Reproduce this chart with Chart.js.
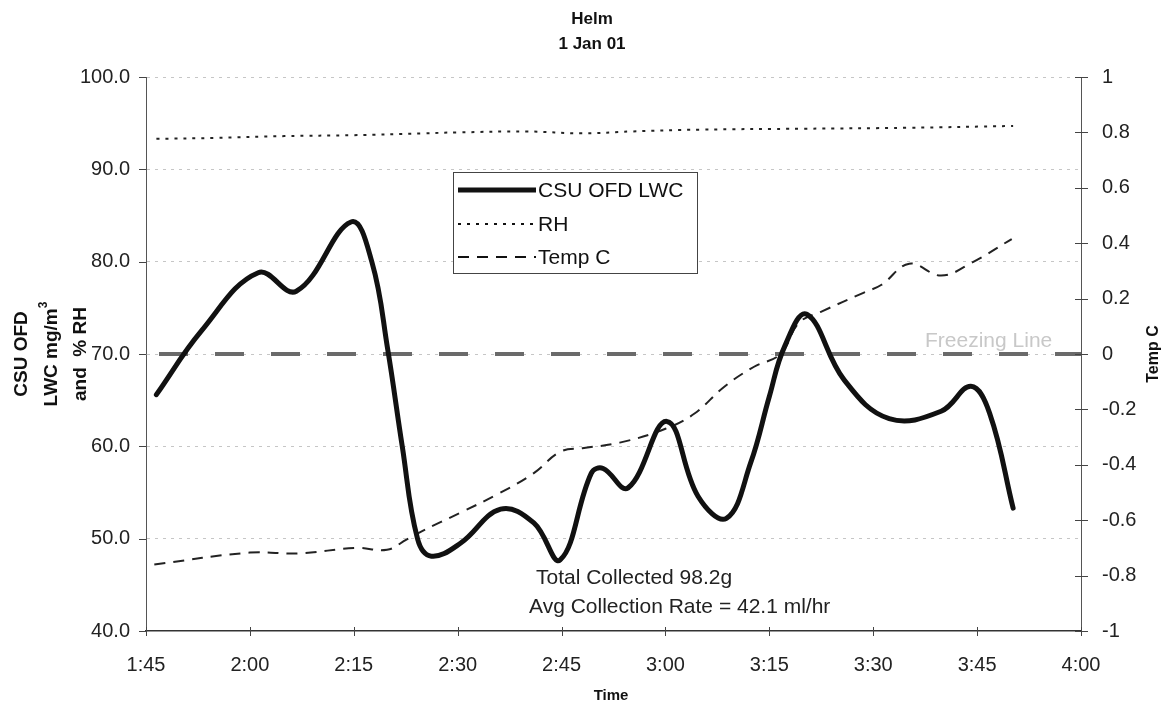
<!DOCTYPE html>
<html>
<head>
<meta charset="utf-8">
<script src="https://cdn.jsdelivr.net/npm/chart.js@4/dist/chart.umd.min.js"></script>
<style>
  body { margin: 0; background: #fff; }
  #chart { display: block; }
</style>
</head>
<body>
<canvas id="chart" width="1169" height="704"></canvas>
<script>
// Data (time in minutes after midnight)
const lwcTimes  = [106.5, 113, 121.2, 126.7, 134.6, 137.6, 139.9, 142, 144.2, 146.2, 150.4, 156.2, 161, 164.8, 169.3, 171, 174.6, 180.2, 184.7, 188.8, 192.3, 195, 197.2, 200.4, 205.8, 212.3, 219.8, 224.1, 226.8, 230.2];
const lwcValues = [65.6, 72.5, 78.8, 76.8, 84.3, 80, 70.5, 60, 50, 48.1, 49.5, 53.2, 51.7, 47.7, 57.1, 57.6, 55.5, 62.7, 54.6, 52.2, 58.2, 65.4, 70.8, 74.3, 67.2, 63.0, 63.8, 66.5, 63.6, 53.3];

const rhTimes  = [106.5, 115, 125, 135, 145, 150, 160, 168, 175, 185, 200, 215, 230.2];
const rhValues = [93.3, 93.4, 93.6, 93.7, 93.9, 94.0, 94.1, 93.9, 94.1, 94.3, 94.4, 94.5, 94.7];

const tempTimes  = [106.2, 120, 127, 135.4, 139.8, 142.6, 144.8, 150.4, 156, 161, 164.8, 168, 173.4, 180, 184.2, 188.5, 192.8, 196.6, 199.3, 202.6, 208.5, 211.2, 215.2, 219.8, 224.1, 230];
const tempValues = [-0.76, -0.717, -0.72, -0.70, -0.707, -0.67, -0.64, -0.573, -0.503, -0.43, -0.353, -0.34, -0.32, -0.27, -0.215, -0.118, -0.046, 0, 0.113, 0.154, 0.22, 0.25, 0.326, 0.283, 0.328, 0.415];

const freezeTimes  = [105, 240];
const freezeValues = [0, 0];

const seriesNames = ['CSU OFD LWC', 'RH', 'Temp C'];
const titleLines = ['Helm', '1 Jan 01'];
const notes = ['Total Collected 98.2g', 'Avg Collection Rate = 42.1 ml/hr'];

const FONT = '"Liberation Sans", Arial, sans-serif';

function pts(xs, ys) { return xs.map((x, i) => ({ x: x, y: ys[i] })); }
function fmtTime(v) {
  const h = Math.floor(v / 60), m = Math.round(v - h * 60);
  return h + ':' + (m < 10 ? '0' : '') + m;
}

// draws title, axis titles, legend, notes, tick marks
const decor = {
  id: 'decor',
  beforeDraw(chart) {
    const c = chart.ctx;
    c.save();
    c.fillStyle = '#fff';
    c.fillRect(0, 0, chart.width, chart.height);
    c.restore();
  },
  afterDraw(chart) {
    const c = chart.ctx;
    const x = chart.scales.x, y = chart.scales.y, y1 = chart.scales.y1;
    const a = chart.chartArea;
    c.save();

    // tick marks
    c.strokeStyle = '#444';
    c.lineWidth = 1;
    c.beginPath();
    y.ticks.forEach(t => { const py = Math.round(y.getPixelForValue(t.value)) + 0.5; c.moveTo(a.left - 7, py); c.lineTo(a.left, py); });
    y1.ticks.forEach(t => { const py = Math.round(y1.getPixelForValue(t.value)) + 0.5; c.moveTo(a.right - 6, py); c.lineTo(a.right + 7, py); });
    x.ticks.forEach(t => { const px = Math.round(x.getPixelForValue(t.value)) + 0.5; c.moveTo(px, a.bottom - 4); c.lineTo(px, a.bottom + 5); });
    c.stroke();

    // title
    c.fillStyle = '#111';
    c.textAlign = 'center';
    c.textBaseline = 'middle';
    c.font = 'bold 17px ' + FONT;
    c.fillText(titleLines[0], 592, 19);
    c.fillText(titleLines[1], 592, 44);

    // x title
    c.font = 'bold 15px ' + FONT;
    c.fillText('Time', 611, 696);

    // left title
    c.save();
    c.translate(0, 354);
    c.rotate(-Math.PI / 2);
    c.font = 'bold 19px ' + FONT;
    c.fillText('CSU OFD', 0, 22);
    c.fillText('and  % RH', 0, 81);
    // LWC mg/m3 with superscript
    const base = 'LWC mg/m';
    const w1 = c.measureText(base).width;
    c.font = 'bold 12px ' + FONT;
    const w2 = c.measureText('3').width;
    c.textAlign = 'left';
    c.font = 'bold 19px ' + FONT;
    c.fillText(base, -(w1 + w2) / 2, 52);
    c.font = 'bold 12px ' + FONT;
    c.fillText('3', -(w1 + w2) / 2 + w1, 44);
    c.restore();

    // right title
    c.save();
    c.translate(1154, 354);
    c.rotate(-Math.PI / 2);
    c.font = 'bold 16px ' + FONT;
    c.fillText('Temp C', 0, 0);
    c.restore();

    // freezing line label
    c.fillStyle = '#c8c8c8';
    c.textAlign = 'left';
    c.font = '21px ' + FONT;
    c.fillText('Freezing Line', 925, 341);

    // notes
    c.fillStyle = '#222';
    c.font = '21px ' + FONT;
    c.fillText(notes[0], 536, 578);
    c.fillText(notes[1], 529, 607);

    // legend
    c.fillStyle = '#fff';
    c.fillRect(453, 172, 244, 101);
    c.strokeStyle = '#444';
    c.lineWidth = 1;
    c.strokeRect(453.5, 172.5, 244, 101);
    const ds = chart.data.datasets;
    const rows = [190, 224, 257];
    for (let i = 0; i < 3; i++) {
      c.beginPath();
      c.strokeStyle = '#111';
      c.lineWidth = ds[i].borderWidth;
      c.setLineDash(ds[i].borderDash || []);
      c.moveTo(458, rows[i]);
      c.lineTo(536, rows[i]);
      c.stroke();
      c.setLineDash([]);
      c.fillStyle = '#111';
      c.fillText(seriesNames[i], 538, rows[i] + 1);
    }
    c.restore();
  }
};

new Chart(document.getElementById('chart'), {
  type: 'line',
  data: {
    datasets: [
      { label: seriesNames[0], data: pts(lwcTimes, lwcValues), yAxisID: 'y', borderColor: '#111', borderWidth: 5, tension: 0.4, pointRadius: 0, borderCapStyle: 'round' },
      { label: seriesNames[1], data: pts(rhTimes, rhValues), yAxisID: 'y', borderColor: '#222', borderWidth: 2, borderDash: [3, 6], tension: 0.4, pointRadius: 0 },
      { label: seriesNames[2], data: pts(tempTimes, tempValues), yAxisID: 'y1', borderColor: '#222', borderWidth: 2, borderDash: [11, 8], tension: 0.4, pointRadius: 0 },
      { label: 'Freezing Line', data: pts(freezeTimes, freezeValues), yAxisID: 'y1', borderColor: '#6a6a6a', borderWidth: 4, borderDash: [29, 27], borderDashOffset: 43, pointRadius: 0 }
    ]
  },
  options: {
    responsive: false,
    devicePixelRatio: 1,
    animation: false,
    layout: { padding: { top: 77, left: 0, right: 0, bottom: 0 } },
    plugins: { legend: { display: false }, title: { display: false }, tooltip: { enabled: false } },
    scales: {
      x: {
        type: 'linear', min: 105, max: 240,
        afterFit: s => { s.height = 73; },
        ticks: { stepSize: 15, padding: 22, color: '#222', font: { family: FONT, size: 20 }, callback: v => fmtTime(v), maxRotation: 0 },
        grid: { display: false, drawTicks: false },
        border: { display: true, color: '#333', width: 1.5 }
      },
      y: {
        position: 'left', min: 40, max: 100,
        afterFit: s => { s.width = 146; },
        ticks: { stepSize: 10, padding: 16, color: '#222', font: { family: FONT, size: 20 }, callback: v => v.toFixed(1) },
        grid: { display: true, drawTicks: false, color: ctx => ctx.tick.value === 40 ? 'rgba(0,0,0,0)' : '#c6c6c6', lineWidth: 1 },
        border: { display: true, color: '#555', width: 1, dash: [3, 5] }
      },
      y1: {
        position: 'right', min: -1, max: 1,
        afterFit: s => { s.width = 88; },
        ticks: { stepSize: 0.2, padding: 21, color: '#222', font: { family: FONT, size: 20 }, callback: v => String(Number(v.toFixed(1))) },
        grid: { display: false, drawTicks: false },
        border: { display: true, color: '#555', width: 1 }
      }
    }
  },
  plugins: [decor]
});
</script>
</body>
</html>
